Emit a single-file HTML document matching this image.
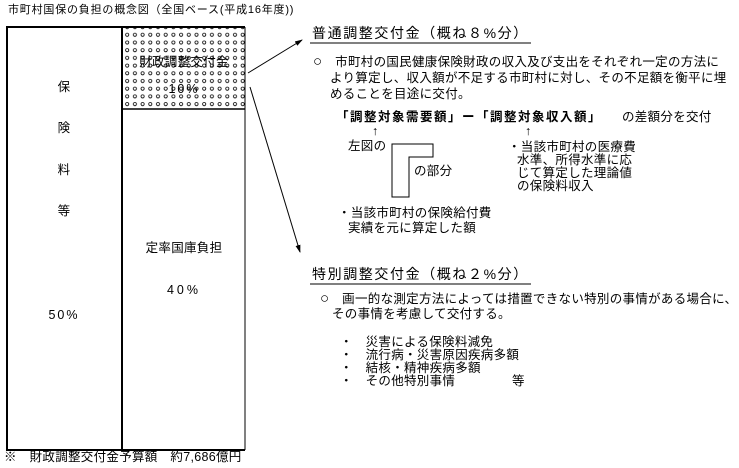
<!DOCTYPE html>
<html><head><meta charset="utf-8"><style>
body{margin:0;background:#fff;width:739px;height:468px;overflow:hidden;position:relative;font-family:"Liberation Sans","Noto Sans CJK JP",sans-serif;color:#000}
.t{position:absolute;white-space:nowrap;font-size:12.5px;line-height:14px;letter-spacing:0.3px}
.c{transform:translateX(-50%)}
.h{font-size:14px;letter-spacing:1.6px}
.b{font-weight:bold;letter-spacing:1.5px}
.o{font-size:15px}
</style></head><body>
<svg width="739" height="468" style="position:absolute;left:0;top:0">
<defs><pattern id="d" width="7.7" height="7.7" patternUnits="userSpaceOnUse"><circle cx="4" cy="4" r="1.6" fill="none" stroke="#000" stroke-width="0.8"/></pattern>
<marker id="a" markerWidth="8" markerHeight="8" refX="7" refY="4" orient="auto"><path d="M0,1.5 L8,4 L0,6.5z" fill="#000"/></marker></defs>
<rect x="122" y="27" width="123" height="82" fill="url(#d)"/>
<path d="M245,27 H7 V450 H245" fill="none" stroke="#000" stroke-width="2"/>
<line x1="245" y1="27" x2="245" y2="450" stroke="#000" stroke-width="1"/>
<line x1="122" y1="27" x2="122" y2="450" stroke="#000" stroke-width="2"/>
<line x1="122" y1="109" x2="245" y2="109" stroke="#000" stroke-width="1.5"/>
<line x1="248" y1="73" x2="302" y2="40" stroke="#000" marker-end="url(#a)"/>
<line x1="250" y1="87" x2="300" y2="252" stroke="#000" marker-end="url(#a)"/>
<line x1="310" y1="43" x2="531" y2="43" stroke="#000"/>
<line x1="310" y1="284" x2="531" y2="284" stroke="#000"/>
<path d="M392,144 H433 V157 H409 V197 H392 Z" fill="none" stroke="#000"/>
</svg>
<div class="t" style="left:8px;top:3px;font-size:11px;letter-spacing:0.8px">市町村国保の負担の概念図（全国ベース(平成16年度))</div>
<div class="t c" style="left:64px;top:80px">保</div>
<div class="t c" style="left:64px;top:121px">険</div>
<div class="t c" style="left:64px;top:163px">料</div>
<div class="t c" style="left:64px;top:204px">等</div>
<div class="t c" style="left:64px;top:308px;letter-spacing:2px">50%</div>
<div class="t c" style="left:184px;top:55px">財政調整交付金</div>
<div class="t c" style="left:184px;top:82px;letter-spacing:2px">10%</div>
<div class="t c" style="left:184px;top:241px">定率国庫負担</div>
<div class="t c" style="left:184px;top:283px;letter-spacing:3px">40%</div>
<div class="t h" style="left:312px;top:26px">普通調整交付金（概ね８%分）</div>
<div class="t" style="left:313px;top:55px"><span class="o">○</span>　市町村の国民健康保険財政の収入及び支出をそれぞれ一定の方法に</div>
<div class="t" style="left:330px;top:71px">より算定し、収入額が不足する市町村に対し、その不足額を衡平に埋</div>
<div class="t" style="left:330px;top:87px">めることを目途に交付。</div>
<div class="t b" style="left:336px;top:110px">「調整対象需要額」ー「調整対象収入額」</div>
<div class="t" style="left:622px;top:110px">の差額分を交付</div>
<div class="t" style="left:372px;top:124px">↑</div>
<div class="t" style="left:525px;top:124px">↑</div>
<div class="t" style="left:348px;top:139px">左図の</div>
<div class="t" style="left:414px;top:164px">の部分</div>
<div class="t" style="left:338px;top:206px">・当該市町村の保険給付費</div>
<div class="t" style="left:348px;top:221px">実績を元に算定した額</div>
<div class="t" style="left:508px;top:140px">・当該市町村の医療費</div>
<div class="t" style="left:517px;top:153px">水準、所得水準に応</div>
<div class="t" style="left:517px;top:166px">じて算定した理論値</div>
<div class="t" style="left:517px;top:179px">の保険料収入</div>
<div class="t h" style="left:312px;top:267px">特別調整交付金（概ね２%分）</div>
<div class="t" style="left:320px;top:292px"><span class="o">○</span>　画一的な測定方法によっては措置できない特別の事情がある場合に、</div>
<div class="t" style="left:332px;top:307px">その事情を考慮して交付する。</div>
<div class="t" style="left:340px;top:335px">・　災害による保険料減免</div>
<div class="t" style="left:340px;top:348px">・　流行病・災害原因疾病多額</div>
<div class="t" style="left:340px;top:361px">・　結核・精神疾病多額</div>
<div class="t" style="left:340px;top:374px">・　その他特別事情</div>
<div class="t" style="left:512px;top:374px">等</div>
<div class="t" style="left:4px;top:450px">※　財政調整交付金予算額　約7,686億円</div>
</body></html>
